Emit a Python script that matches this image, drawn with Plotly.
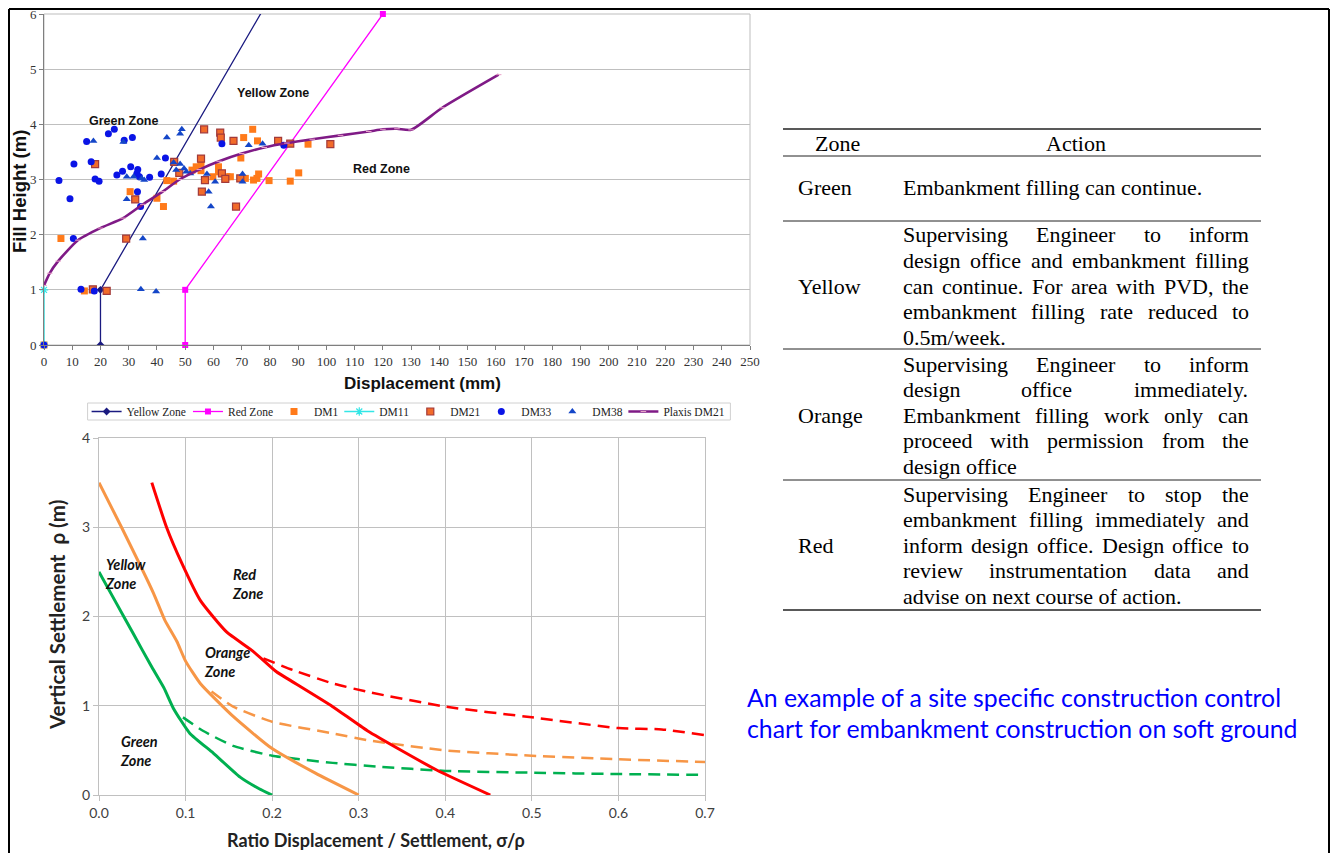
import plotly.graph_objects as go

# ---------------- data: top chart (Fill Height vs Displacement) ----------------
yellow_zone_x = [20, 20, 88]
yellow_zone_y = [0, 1, 7]
red_zone_x = [50, 50, 120]
red_zone_y = [0, 1, 6]

dm1_x = [0, 6.0, 14.3, 30.5, 40.0, 42.3, 43.5, 45.9, 52.4, 53.9, 55.6, 55.6, 59.8, 61.8, 61.8, 63.0,
         64.8, 66.0, 69.7, 70.7, 71.3, 73.9, 74.2, 75.4, 75.6, 76.0, 79.7, 87.2, 90.2, 93.5]
dm1_y = [0, 1.93, 0.98, 2.78, 2.66, 2.51, 2.98, 2.97, 3.17, 3.23, 3.29, 3.16, 3.05, 3.23, 3.14, 3.11,
         3.05, 3.05, 3.39, 3.76, 3.02, 3.91, 2.99, 3.02, 3.70, 3.10, 2.98, 2.97, 3.12, 3.64]

dm11_x = [0, 0]
dm11_y = [0, 1]

dm21_x = [17.3, 22.2, 18.1, 29.1, 32.3, 46.1, 47.9, 55.6, 55.9, 56.7, 57.0, 62.4, 62.6, 63.0, 64.2,
          67.1, 68.0, 69.5, 82.9, 87.2, 101.4]
dm21_y = [1.01, 0.98, 3.28, 1.93, 2.64, 3.32, 3.12, 3.38, 2.78, 3.91, 2.99, 3.85, 3.76, 3.11, 3.01,
          3.70, 2.51, 3.02, 3.70, 3.65, 3.64]

dm33_x = [0, 5.3, 9.2, 10.6, 10.4, 13.1, 15.1, 16.7, 17.8, 18.1, 19.5, 22.8, 24.9, 25.8, 27.8, 28.4,
          30.7, 31.3, 32.9, 33.2, 33.8, 33.1, 34.2, 37.4, 41.5, 43.0, 63.0, 84.9]
dm33_y = [0, 2.98, 2.65, 3.28, 1.93, 1.01, 3.69, 3.32, 0.98, 3.01, 2.97, 3.83, 3.91, 3.08, 3.15, 3.71,
          3.23, 3.76, 3.11, 3.18, 3.05, 2.78, 2.51, 3.04, 3.10, 3.39, 3.65, 3.62]

dm38_x = [17.5, 28.1, 29.3, 31.7, 34.6, 35.5, 29.3, 40.0, 43.5, 45.9, 46.8, 48.2, 48.8, 48.2, 49.6,
          50.4, 51.8, 57.7, 58.3, 59.1, 60.6, 70.3, 70.3, 72.5, 77.4, 35.0, 34.3, 39.7]
dm38_y = [3.70, 3.68, 3.05, 3.05, 3.02, 2.99, 2.64, 3.39, 3.76, 3.31, 3.17, 3.83, 3.91, 3.28, 3.20,
          3.14, 3.11, 3.10, 2.78, 2.51, 2.96, 3.10, 2.96, 3.62, 3.65, 1.93, 1.01, 0.97]

plaxis_x = [0, 2, 5, 12, 20, 28, 35, 42, 48, 55, 62, 70, 78, 86, 95, 105, 115, 120, 125, 130, 141, 161]
plaxis_y = [1.08, 1.3, 1.52, 1.9, 2.12, 2.3, 2.55, 2.78, 3.0, 3.18, 3.33, 3.47, 3.58, 3.66, 3.73, 3.8,
            3.87, 3.91, 3.92, 3.9, 4.3, 4.9]

top_zone_labels = ["Green Zone", "Yellow Zone", "Red Zone"]
top_zone_label_x = [28.4, 81.2, 119.5]
top_zone_label_y = [4.06, 4.57, 3.19]

# ---------------- data: bottom chart (settlement vs ratio) ----------------
green_solid_x = [0.0, 0.02, 0.04, 0.06, 0.075, 0.086, 0.105, 0.132, 0.163, 0.185, 0.2]
green_solid_y = [2.5, 2.15, 1.8, 1.45, 1.2, 0.97, 0.69, 0.47, 0.2, 0.07, 0.0]
green_dash_x = [0.097, 0.12, 0.155, 0.2, 0.27, 0.32, 0.4, 0.5, 0.6, 0.7]
green_dash_y = [0.87, 0.72, 0.55, 0.44, 0.36, 0.32, 0.27, 0.25, 0.235, 0.225]

orange_solid_x = [0.0, 0.026, 0.063, 0.076, 0.09, 0.1, 0.117, 0.155, 0.2, 0.25, 0.3]
orange_solid_y = [3.5, 3.0, 2.26, 1.96, 1.72, 1.5, 1.25, 0.88, 0.52, 0.245, 0.0]
orange_dash_x = [0.13, 0.155, 0.2, 0.27, 0.313, 0.4, 0.5, 0.6, 0.7]
orange_dash_y = [1.16, 0.99, 0.82, 0.69, 0.61, 0.50, 0.44, 0.40, 0.37]

red_solid_x = [0.061, 0.078, 0.0955, 0.117, 0.147, 0.178, 0.205, 0.22, 0.27, 0.31, 0.39, 0.452]
red_solid_y = [3.5, 3.0, 2.6, 2.18, 1.83, 1.61, 1.38, 1.29, 0.99, 0.72, 0.28, 0.0]
red_dash_x = [0.19, 0.224, 0.27, 0.313, 0.4, 0.5, 0.6, 0.65, 0.7]
red_dash_y = [1.53, 1.40, 1.25, 1.15, 0.99, 0.87, 0.75, 0.735, 0.67]

bottom_zone_labels = ["Yellow<br>Zone", "Red<br>Zone", "Orange<br>Zone", "Green<br>Zone"]
bottom_zone_label_x = [0.005, 0.151, 0.119, 0.022]
bottom_zone_label_y = [2.48, 2.36, 1.49, 0.49]

# ---------------- data: table ----------------
table_header = ["Zone", "Action"]
zone_names = ["Green", "Yellow", "Orange", "Red"]
action_lines = [
    ["Embankment filling can continue."],
    ["Supervising Engineer to inform",
     "design office and embankment filling",
     "can continue. For area with PVD, the",
     "embankment filling rate reduced to",
     "0.5m/week."],
    ["Supervising Engineer to inform",
     "design office immediately.",
     "Embankment filling work only can",
     "proceed with permission from the",
     "design office"],
    ["Supervising Engineer to stop the",
     "embankment filling immediately and",
     "inform design office. Design office to",
     "review instrumentation data and",
     "advise on next course of action."],
]
caption_lines = ["An example of a site specific construction control",
                 "chart for embankment construction on soft ground"]

# ---------------- layout helpers ----------------
# the page adds an 8px body margin, so the figure is 16px smaller than the window
OFF = 8
W, H = 1338 - 2 * OFF, 861 - 2 * OFF


def px(x):
    return (x - OFF) / W


def py(y):
    return 1 - (y - OFF) / H


TW = {' ': 250, '!': 333, ',': 250, '-': 333, '.': 250, '/': 278, ':': 278, ';': 278, '(': 333, ')': 333,
      'A': 722, 'B': 667, 'C': 667, 'D': 722, 'E': 611, 'F': 556, 'G': 722, 'H': 722, 'I': 333, 'J': 389,
      'K': 722, 'L': 611, 'M': 889, 'N': 722, 'O': 722, 'P': 556, 'Q': 722, 'R': 667, 'S': 556, 'T': 611,
      'U': 722, 'V': 722, 'W': 944, 'X': 722, 'Y': 722, 'Z': 611,
      'a': 444, 'b': 500, 'c': 444, 'd': 500, 'e': 444, 'f': 333, 'g': 500, 'h': 500, 'i': 278, 'j': 278,
      'k': 500, 'l': 278, 'm': 778, 'n': 500, 'o': 500, 'p': 500, 'q': 500, 'r': 333, 's': 389, 't': 278,
      'u': 500, 'v': 500, 'w': 722, 'x': 500, 'y': 500, 'z': 444}


def tw(s, size):
    return sum(TW.get(c, 500) for c in s) * size / 1000.0


fig = go.Figure()

# ---- top chart traces (each legend entry gets its own positioned legend) ----
fig.add_trace(go.Scatter(x=yellow_zone_x, y=yellow_zone_y, mode="lines+markers", name="Yellow Zone",
                         legend="legend",
                         line=dict(color="#1A1A80", width=1.3),
                         marker=dict(symbol="diamond", size=6, color="#1A1A80")))
fig.add_trace(go.Scatter(x=red_zone_x, y=red_zone_y, mode="lines+markers", name="Red Zone",
                         legend="legend2",
                         line=dict(color="#FF00FF", width=1.3),
                         marker=dict(symbol="square", size=6, color="#FF00FF"), cliponaxis=False))
fig.add_trace(go.Scatter(x=dm1_x, y=dm1_y, mode="markers", name="DM1", legend="legend3",
                         marker=dict(symbol="square", size=7, color="#FF7A1A"), cliponaxis=False))
fig.add_trace(go.Scatter(x=dm11_x, y=dm11_y, mode="lines+markers", name="DM11", legend="legend4",
                         line=dict(color="#33E6E6", width=1.3),
                         marker=dict(symbol="asterisk-open", size=7, color="#33E6E6",
                                     line=dict(color="#33E6E6", width=1.2)), cliponaxis=False))
fig.add_trace(go.Scatter(x=dm21_x, y=dm21_y, mode="markers", name="DM21", legend="legend5",
                         marker=dict(symbol="square", size=7, color="#F26B2A",
                                     line=dict(color="#A23A3A", width=1.2)), cliponaxis=False))
fig.add_trace(go.Scatter(x=dm33_x, y=dm33_y, mode="markers", name="DM33", legend="legend6",
                         marker=dict(symbol="circle", size=7, color="#0A14E6"), cliponaxis=False))
fig.add_trace(go.Scatter(x=dm38_x, y=dm38_y, mode="markers", name="DM38", legend="legend7",
                         marker=dict(symbol="triangle-up", size=7, color="#1446C8"), cliponaxis=False))
fig.add_trace(go.Scatter(x=plaxis_x, y=plaxis_y, mode="lines+markers", name="Plaxis DM21",
                         legend="legend8",
                         line=dict(color="#7F1A86", width=2.6, shape="spline", smoothing=0.6),
                         marker=dict(symbol="line-ew", size=4, color="#E8A0C8",
                                     line=dict(color="#E8A0C8", width=1))))
legend_names = ["Yellow Zone", "Red Zone", "DM1", "DM11", "DM21", "DM33", "DM38", "Plaxis DM21"]

# ---- bottom chart traces ----
bot = [
    (green_solid_x, green_solid_y, "#00B050", "solid"),
    (green_dash_x, green_dash_y, "#00B050", "12px,7px"),
    (orange_solid_x, orange_solid_y, "#F79646", "solid"),
    (orange_dash_x, orange_dash_y, "#F79646", "12px,7px"),
    (red_solid_x, red_solid_y, "#FF0000", "solid"),
    (red_dash_x, red_dash_y, "#FF0000", "12px,7px"),
]
for bx, by, col, dash in bot:
    fig.add_trace(go.Scatter(x=bx, y=by, mode="lines", xaxis="x2", yaxis="y2", showlegend=False,
                             line=dict(color=col, width=3 if dash == "solid" else 2.5, dash=dash,
                                       shape="spline", smoothing=0.5),
                             hoverinfo="skip"))

annotations = []
shapes = []

# top chart zone labels
for t, x, y in zip(top_zone_labels, top_zone_label_x, top_zone_label_y):
    annotations.append(dict(text="<b>" + t + "</b>", x=x, y=y, xref="x", yref="y", showarrow=False,
                            font=dict(family="Liberation Sans", size=12.5, color="#111"),
                            xanchor="center", yanchor="middle"))
# bottom chart zone labels
for t, x, y in zip(bottom_zone_labels, bottom_zone_label_x, bottom_zone_label_y):
    annotations.append(dict(text="<b><i>" + t + "</i></b>", x=x, y=y, xref="x2", yref="y2",
                            showarrow=False, align="left", xanchor="left", yanchor="middle",
                            font=dict(family="Lato", size=14.5, color="#111")))

# axis titles as annotations (off-centre like reference)
annotations += [
    dict(text="<b>Displacement (mm)</b>", x=px(422), y=py(383), xref="paper", yref="paper",
         showarrow=False, xanchor="center", yanchor="middle",
         font=dict(family="Liberation Sans", size=17, color="#111")),
    dict(text="<b>Fill Height (m)</b>", x=px(19), y=py(192), xref="paper", yref="paper",
         showarrow=False, textangle=-90, xanchor="center", yanchor="middle",
         font=dict(family="Liberation Sans", size=18.5, color="#111")),
    dict(text="<b>Ratio Displacement / Settlement, σ/ρ</b>", x=px(376), y=py(840), xref="paper",
         yref="paper", showarrow=False, xanchor="center", yanchor="middle",
         font=dict(family="Lato", size=18, color="#222")),
    dict(text="<b>Vertical Settlement  ρ (m)</b>", x=px(57), y=py(615), xref="paper", yref="paper",
         showarrow=False, textangle=-90, xanchor="center", yanchor="middle",
         font=dict(family="Lato", size=20.5, color="#222")),
]

# ---------------- table (lines + justified text) ----------------
FS = 22
TFONT = dict(family="Liberation Serif", size=FS, color="#000")
tx0, tcol, tx1 = 783, 891, 1261
text_left, text_right = 903, 1249
row_first_y = [188, 235, 364, 494]
line_step = 25.6
row_sep_y = [156, 221, 349, 480]

for ly, wdt in [(129, 1.6)] + [(y, 1.0) for y in row_sep_y] + [(610, 1.6)]:
    shapes.append(dict(type="line", xref="paper", yref="paper", x0=px(tx0), x1=px(tx1),
                       y0=py(ly), y1=py(ly), line=dict(color="#222", width=wdt)))

annotations.append(dict(text=table_header[0], x=px((tx0 + tcol) / 2), y=py(143), xref="paper",
                        yref="paper", showarrow=False, xanchor="center", yanchor="middle", font=TFONT))
annotations.append(dict(text=table_header[1], x=px((tcol + tx1) / 2), y=py(143), xref="paper",
                        yref="paper", showarrow=False, xanchor="center", yanchor="middle", font=TFONT))

for zi, (zn, lines) in enumerate(zip(zone_names, action_lines)):
    ys = [row_first_y[zi] + k * line_step for k in range(len(lines))]
    mid = ys[len(ys) // 2]
    annotations.append(dict(text=zn, x=px(796), y=py(mid), xref="paper", yref="paper", showarrow=False,
                            xanchor="left", yanchor="middle", font=TFONT))
    for k, (ln, yy) in enumerate(zip(lines, ys)):
        last = (k == len(lines) - 1)
        words = ln.split(" ")
        if last or len(words) == 1:
            annotations.append(dict(text=ln, x=px(text_left - 2), y=py(yy), xref="paper", yref="paper",
                                    showarrow=False, xanchor="left", yanchor="middle", font=TFONT))
        else:
            widths = [tw(w, FS) for w in words]
            gap = (text_right - text_left - sum(widths)) / (len(words) - 1)
            cx = text_left
            for w, wd in zip(words, widths):
                annotations.append(dict(text=w, x=px(cx - 2), y=py(yy), xref="paper", yref="paper",
                                        showarrow=False, xanchor="left", yanchor="middle", font=TFONT))
                cx += wd + gap

# caption
for ln, yy in zip(caption_lines, [697, 728]):
    annotations.append(dict(text=ln, x=px(745), y=py(yy), xref="paper", yref="paper", showarrow=False,
                            xanchor="left", yanchor="middle",
                            font=dict(family="Lato", size=24.8, color="#0000FF")))

# top chart light border (top/right)
shapes.append(dict(type="rect", xref="x domain", yref="y domain", x0=0, x1=1, y0=0, y1=1,
                   line=dict(color="#BDBDBD", width=1), layer="below"))

# ---- legends: one per entry, packed side by side inside one box ----
LFS = 11.5
legend_font = dict(family="Liberation Serif", size=LFS, color="#222")
text_ws = [tw(n, LFS) for n in legend_names]
total = 7 * 41 + sum(text_ws[:-1]) + 35 + text_ws[-1]
centre = 408
lx = centre - total / 2 - 5
legends = {}
box_left = lx + 1
last_right = lx
for i, twd in enumerate(text_ws):
    key = "legend" if i == 0 else "legend%d" % (i + 1)
    legends[key] = dict(x=px(lx), y=py(411.5), xanchor="left", yanchor="middle",
                        orientation="h", font=legend_font, borderwidth=0, itemwidth=30,
                        bgcolor="rgba(0,0,0,0)")
    last_right = lx + 42 + twd
    lx += 41 + twd
shapes.append(dict(type="rect", xref="paper", yref="paper", x0=px(box_left), x1=px(last_right + 4),
                   y0=py(420), y1=py(403), line=dict(color="#D0D0D0", width=1), fillcolor="white",
                   layer="below"))

# outer frame
fx0, fx1, fy0 = 1.0 / W, 1 - 1.0 / W, 1 - 1.0 / H
for (x0, y0, x1, y1) in [(fx0, fy0, fx1, fy0), (fx0, fy0, fx0, -0.01), (fx1, fy0, fx1, -0.01)]:
    shapes.append(dict(type="line", xref="paper", yref="paper", x0=x0, x1=x1, y0=y0, y1=y1,
                       line=dict(color="#000", width=2)))

tick_serif = dict(family="Liberation Serif", size=13, color="#333")
tick_sans = dict(family="Lato", size=14, color="#404040")

fig.update_layout(
    width=W, height=H, margin=dict(l=0, r=0, t=0, b=0, autoexpand=False),
    paper_bgcolor="white", plot_bgcolor="white",
    xaxis=dict(domain=[px(44), px(750)], range=[0, 250], dtick=10, anchor="y", showgrid=False,
               zeroline=False, showline=True, linecolor="#7F7F7F", linewidth=1, ticks="outside",
               ticklen=4, tickcolor="#7F7F7F", tickfont=tick_serif, automargin=False,
               ticklabeloverflow="allow"),
    yaxis=dict(domain=[py(345), py(14)], range=[0, 6], dtick=1, anchor="x", showgrid=True,
               gridcolor="#BFBFBF", zeroline=False, showline=True, linecolor="#7F7F7F", linewidth=1,
               ticks="outside", ticklen=4, tickcolor="#7F7F7F", tickfont=tick_serif, automargin=False,
               ticklabeloverflow="allow"),
    xaxis2=dict(domain=[px(99), px(705)], range=[0, 0.7], dtick=0.1, tickformat=".1f", anchor="y2",
                showgrid=True, gridcolor="#C0C0C0", zeroline=False, showline=True, mirror=True,
                linecolor="#C0C0C0", ticks="outside", ticklen=5, tickcolor="#C0C0C0", tickfont=tick_sans,
                automargin=False),
    yaxis2=dict(domain=[py(795), py(438)], range=[0, 4], dtick=1, anchor="x2", showgrid=True,
                gridcolor="#C0C0C0", zeroline=False, showline=True, mirror=True, linecolor="#C0C0C0",
                ticks="outside", ticklen=5, tickcolor="#C0C0C0", tickfont=tick_sans, automargin=False),
    annotations=annotations, shapes=shapes, showlegend=True,
    **legends,
)

fig.write_html("out.html", config={"displayModeBar": False})
